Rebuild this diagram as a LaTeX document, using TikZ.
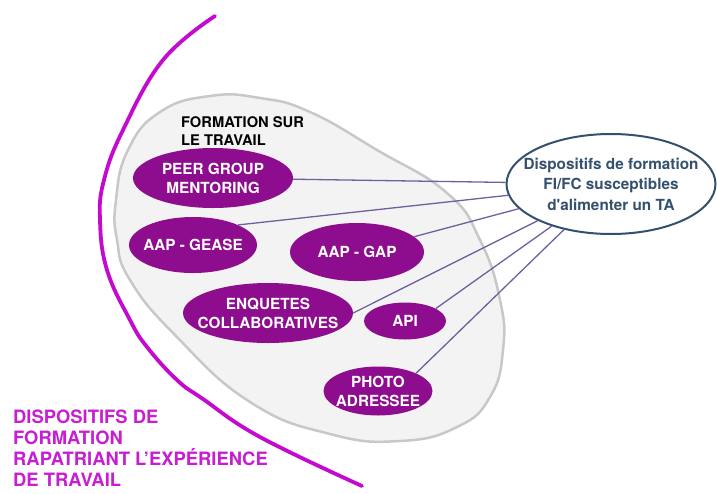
\documentclass[tikz,border=0pt]{standalone}
\usepackage{fontspec}
\newfontfamily\hv{TeX Gyre Heros}
\usetikzlibrary{shapes.geometric}
\definecolor{purp}{RGB}{142,13,142}
\definecolor{magc}{RGB}{196,10,206}
\definecolor{magt}{RGB}{200,30,210}
\definecolor{linkc}{RGB}{110,96,160}
\definecolor{blu}{RGB}{52,80,110}
\definecolor{greyf}{RGB}{243,243,243}
\definecolor{greyb}{RGB}{200,200,200}
\begin{document}
\begin{tikzpicture}[x=1pt,y=-1pt,
  pill/.style={ellipse, fill=purp, text=white, inner ysep=0pt, inner xsep=-20pt,
    align=center, font=\hv\bfseries\fontsize{15.3}{19}\selectfont},
  link/.style={draw=linkc, line width=1.3pt}]
\useasboundingbox (0,0) rectangle (717,493);
% big magenta arc
\draw[magc, line width=3.8pt, line cap=round] plot[smooth, tension=0.7] coordinates
  {(215,16) (163,60) (123,130) (104,180) (100,220) (107,270) (130,320) (147,347) (177,380) (203,399) (260,437) (362,486)};
% grey region
\draw[draw=greyb, line width=2.5pt, fill=greyf] plot[smooth cycle, tension=0.8] coordinates
  {(116,200) (128,150) (160,112) (210,96) (260,98) (310,112) (377,150) (447,193) (480,240)
   (500,300) (503,350) (490,397) (457,427) (400,441) (330,434) (250,402) (175,335) (130,280) (117,240)};
% title
\node[anchor=west, inner sep=0pt, align=left, font=\hv\bfseries\fontsize{14.7}{18}\selectfont] (title) at (181,131) {FORMATION SUR\\LE TRAVAIL};
% purple ellipses
\node[pill, minimum width=160pt, minimum height=60pt] (peer) at (213,178) {PEER GROUP\\MENTORING};
\node[pill, minimum width=128pt, minimum height=56pt] (gease) at (193,245) {AAP - GEASE};
\node[pill, minimum width=134pt, minimum height=58pt] (gap) at (357,252) {AAP - GAP};
\node[pill, minimum width=170pt, minimum height=60pt] (enq) at (268,313) {ENQUETES\\COLLABORATIVES};
\node[pill, minimum width=82pt, minimum height=37pt] (api) at (405,321) {API};
\node[pill, minimum width=109pt, minimum height=49pt] (photo) at (378,391) {PHOTO\\ADRESSEE};
% right ellipse
\node[ellipse, draw=blu, line width=2pt, fill=white, text=blu, minimum width=209pt, minimum height=100pt,
  inner xsep=-30pt, inner ysep=0pt, align=center, font=\hv\bfseries\fontsize{15.3}{20.5}\selectfont] (ta) at (611,184)
  {Dispositifs de formation\\FI/FC susceptibles\\d'alimenter un TA};
% connectors
\draw[link] (peer) -- (ta);
\draw[link] (gease.24) -- (ta);
\draw[link] (gap) -- (ta);
\draw[link] (enq.east) -- (ta);
\draw[link] (api.22) -- (ta);
\draw[link] (photo.25) -- (ta);
% bottom magenta text
\node[anchor=north west, inner sep=0pt, align=left, text=magt, font=\hv\bfseries\fontsize{18.4}{21}\selectfont] (dispo) at (13,410)
  {DISPOSITIFS DE\\FORMATION\\RAPATRIANT L’EXPÉRIENCE\\DE TRAVAIL};
\end{tikzpicture}
\end{document}
